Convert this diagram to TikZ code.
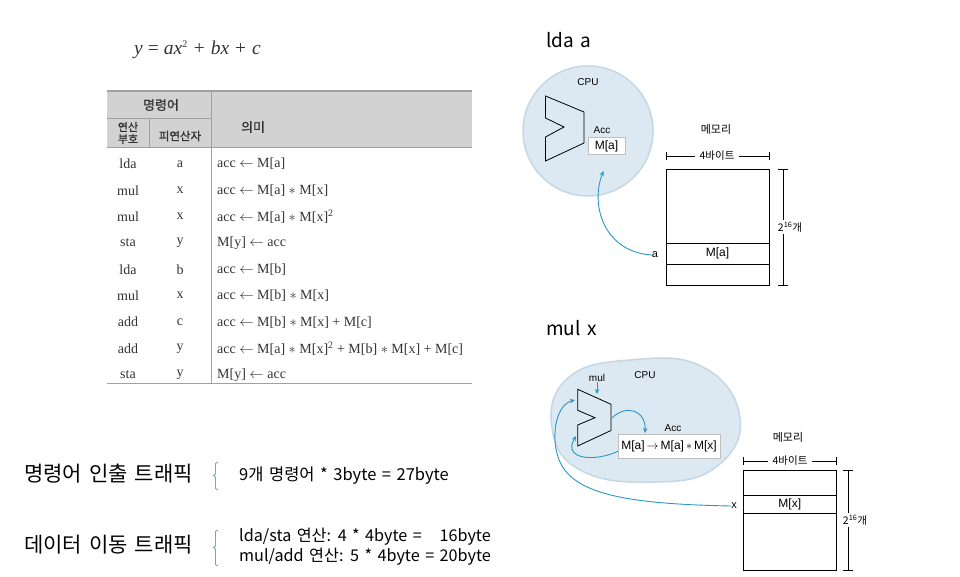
\documentclass[tikz,border=0pt]{standalone}
\usepackage{fontspec}
\setmainfont{Liberation Serif}
\newfontfamily\kr{Noto Sans CJK KR}
\newfontfamily\krb[FakeBold=1]{Noto Sans CJK KR}
\newfontfamily\krw[WordSpace=1.7]{Noto Sans CJK KR}
\newfontfamily\krv[WordSpace=1.5]{Noto Sans CJK KR}
\newfontfamily\hv{Liberation Sans}
\usetikzlibrary{arrows.meta}
\definecolor{hdr}{HTML}{D2D2D2}
\definecolor{tline}{HTML}{A0A0A0}
\definecolor{cpufill}{HTML}{DCE9F2}
\definecolor{cpuedge}{HTML}{C6D7E4}
\definecolor{flowc}{HTML}{2A98C4}
\definecolor{bracec}{HTML}{7FA0CF}
\definecolor{txt}{HTML}{333333}
\tikzset{
  tabtxt/.style={font=\fontsize{14}{16}\selectfont, text=txt, inner sep=0pt},
  krhead/.style={font=\krb\fontsize{13}{14}\selectfont, text=txt, inner sep=0pt, align=center},
  small/.style={font=\hv\fontsize{10}{12}\selectfont, inner sep=0pt},
  cellfont/.style={font=\hv\fontsize{12}{14}\selectfont, inner sep=0pt},
  krsmall/.style={font=\kr\fontsize{11}{12}\selectfont, inner sep=0pt},
  flow/.style={draw=flowc, line width=0.9pt, -{Stealth[length=5pt,width=4.5pt]}},
  alu/.style={draw=black, line width=0.8pt},
  mem/.style={draw=black, line width=0.7pt},
  dimline/.style={draw=black, line width=0.6pt},
  dimlabel/.style={fill=white, inner sep=1.5pt},
  accbox/.style={draw=black!25, fill=white, inner sep=0pt},
  brc/.style={draw=bracec, line width=0.9pt},
  bigkr/.style={font=\kr\fontsize{21}{24}\selectfont, anchor=west, inner sep=0pt},
  midkr/.style={font=\krw\fontsize{16.5}{18}\selectfont, anchor=west, inner sep=0pt},
  midkrb/.style={font=\krv\fontsize{16.2}{18}\selectfont, anchor=west, inner sep=0pt},
  title/.style={font=\kr\fontsize{19}{22}\selectfont, anchor=west, inner sep=0pt}
}
\begin{document}
\begin{tikzpicture}[x=1pt,y=-1pt]
\useasboundingbox (0,0) rectangle (960,577);
\fill[white] (0,0) rectangle (960,577);

% equation
\node[font=\fontsize{19.5}{21}\selectfont, text=txt, inner sep=0pt] (eq) at (197.5,50)
  {{\itshape y}\hspace{5pt}=\hspace{5pt}{\itshape ax}\textsuperscript{\fontsize{10}{10}\selectfont 2}\hspace{6pt}+\hspace{6pt}{\itshape bx}\hspace{6pt}+\hspace{6pt}{\itshape c}};

% table
\fill[hdr] (107,91) rectangle (472,148);
\draw[tline, line width=1.2pt] (107,91) -- (472,91);
\draw[tline, line width=1pt] (107,148) -- (472,148);
\draw[tline, line width=0.8pt] (107,118) -- (211,118);
\draw[tline, line width=0.8pt] (149,118) -- (149,148);
\draw[tline, line width=0.8pt] (211,91) -- (211,383);
\draw[tline, line width=0.8pt] (107,383) -- (472,383);
\node[krhead] (h1) at (161,105) {명령어};
\node[krhead, font=\krb\fontsize{11}{12}\selectfont] (h2) at (128,133) {연산\\부호};
\node[krhead, font=\krb\fontsize{11.5}{12}\selectfont] (h3) at (180,136) {피연산자};
\node[krhead] (h4) at (253,127) {의미};

\foreach \i/\op/\arg/\mean in {
  1/lda/a/{acc $\leftarrow$ M[a]},
  2/mul/x/{acc $\leftarrow$ M[a] $*$ M[x]},
  3/mul/x/{acc $\leftarrow$ M[a] $*$ M[x]\textsuperscript{2}},
  4/sta/y/{M[y] $\leftarrow$ acc},
  5/lda/b/{acc $\leftarrow$ M[b]},
  6/mul/x/{acc $\leftarrow$ M[b] $*$ M[x]},
  7/add/c/{acc $\leftarrow$ M[b] $*$ M[x] + M[c]},
  8/add/y/{acc $\leftarrow$ M[a] $*$ M[x]\textsuperscript{2} + M[b] $*$ M[x] + M[c]},
  9/sta/y/{M[y] $\leftarrow$ acc}}{
  \pgfmathsetmacro{\yy}{164+(\i-1)*26.35}
  \node[tabtxt] (op\i) at (128,\yy) {\op};
  \node[tabtxt] (arg\i) at (180,\yy) {\arg};
  \node[tabtxt, anchor=west] (mean\i) at (217,\yy) {\mean};
}

% bottom texts
\node[bigkr] (t1) at (24,474) {명령어 인출 트래픽};
\draw[brc] (218,462) -- (215.5,463.5) -- (215.5,474) -- (213.5,475.5) -- (215.5,477) -- (215.5,488.5) -- (218,490);
\node[midkr] (t1d) at (239,476) {9개 명령어 * 3byte = 27byte};
\node[bigkr] (t2) at (24,545) {데이터 이동 트래픽};
\draw[brc] (218,530) -- (215.5,531.5) -- (215.5,546) -- (213.5,547.5) -- (215.5,549) -- (215.5,564.5) -- (218,566);
\node[midkrb] (t2a) at (239,537) {lda/sta 연산: 4 * 4byte =};
\node[midkrb, anchor=east] (t2b) at (491,537) {16byte};
\node[midkrb] (t2c) at (239,557) {mul/add 연산: 5 * 4byte = 20byte};

% ---------- lda a ----------
\node[title] (ttl1) at (546,40) {lda a};
\fill[cpufill, draw=cpuedge, line width=1.5pt] (588,131) circle (65);
\node[small] (cpu1) at (588,82) {CPU};
\draw[alu] (545.5,96) -- (584,112) -- (584,143) -- (545.5,161) -- (545.5,137) -- (564,127) -- (545.5,118) -- cycle;
\node[small] (acclbl1) at (602,130) {Acc};
\node[accbox, cellfont, minimum width=37pt, minimum height=17pt] (acc1) at (606.5,146) {M[a]};
\node[krsmall] (memlbl1) at (716,129) {메모리};
\node[mem, minimum width=103pt, minimum height=116pt, inner sep=0pt] (mem1) at (717.5,227) {};
\node[mem, cellfont, minimum width=103pt, minimum height=21pt] (cella) at (717.5,253.5) {M[a]};
\draw[dimline] (666,156) -- (769,156);
\draw[dimline] (666,152) -- (666,160);
\draw[dimline] (769,152) -- (769,160);
\node[dimlabel, inner xsep=5pt, font=\kr\fontsize{10.5}{12}\selectfont] (w1) at (717,156) {4바이트};
\draw[dimline] (783,169) -- (783,285);
\draw[dimline] (778,169) -- (788,169);
\draw[dimline] (778,285) -- (788,285);
\node[dimlabel, font=\kr\fontsize{10.5}{12}\selectfont] (h1n) at (790,227) {2\textsuperscript{16}개};
\node[small, font=\hv\fontsize{11}{12}\selectfont] (alab) at (655,255) {a};
\coordinate (tip1) at (603.5,171);
\draw[flow] (alab.west) .. controls (604,252) and (590,205) .. (tip1);

% ---------- mul x ----------
\node[title] (ttl2) at (546,328) {mul x};
\draw[fill=cpufill, draw=cpuedge, line width=1.5pt] plot[smooth cycle, tension=0.75] coordinates
  {(552,428) (568,378) (630,360) (703,367) (740,418) (716,467) (656,482) (582,471)};
\node[small] (cpu2) at (645,375) {CPU};
\node[small] (mullbl) at (597,378) {mul};
\draw[alu] (577.7,389.3) -- (611,404.3) -- (611,430.5) -- (577.7,446) -- (577.7,425) -- (595,417.7) -- (577.7,410.3) -- cycle;
\coordinate (alutop) at (597,394);
\draw[flow] (mullbl.south) -- (alutop);
\node[small] (acclbl2) at (673,428) {Acc};
\node[accbox, font=\hv\fontsize{12}{13}\selectfont, minimum width=102pt, minimum height=24pt] (acc2) at (669,446)
  {M[a]\,$\rightarrow$\,M[a]\,$\ast$\,M[x]};
\coordinate (aluout) at (612,418);
\coordinate (accin) at (645,433);
\draw[flow] (aluout) .. controls (626,404) and (646,410) .. (accin);
\coordinate (accout) at (618.5,451);
\coordinate (aluin2) at (576,436);
\draw[flow] (accout) .. controls (596,462) and (562,460) .. (aluin2);
\node[krsmall] (memlbl2) at (788,437) {메모리};
\node[mem, minimum width=93.5pt, minimum height=99.3pt, inner sep=0pt] (mem2) at (789.75,520.35) {};
\node[mem, cellfont, minimum width=93.5pt, minimum height=18.3pt] (cellx) at (789.75,504.15) {M[x]};
\draw[dimline] (743,461) -- (836.5,461);
\draw[dimline] (743,457) -- (743,465);
\draw[dimline] (836.5,457) -- (836.5,465);
\node[dimlabel, inner xsep=5pt, font=\kr\fontsize{10.5}{12}\selectfont] (w2) at (790,461) {4바이트};
\draw[dimline] (848,470.7) -- (848,570);
\draw[dimline] (843,470.7) -- (853,470.7);
\draw[dimline] (843,570) -- (853,570);
\node[dimlabel, font=\kr\fontsize{10.5}{12}\selectfont] (h2n) at (855,520) {2\textsuperscript{16}개};
\node[small, font=\hv\fontsize{11}{12}\selectfont] (xlab) at (734,506) {x};
\coordinate (mid2) at (560,462);
\coordinate (aluin1) at (575,400);
\draw[flow] (xlab.west) .. controls (630,504) and (575,495) .. (mid2) .. controls (550,440) and (555,405) .. (aluin1);
\end{tikzpicture}
\end{document}
